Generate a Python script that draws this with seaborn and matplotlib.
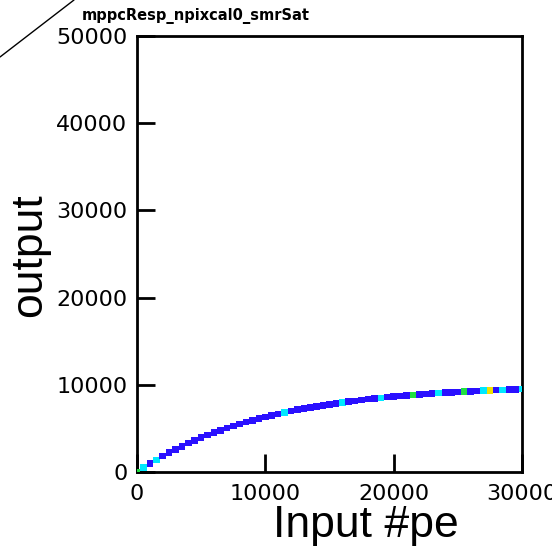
import matplotlib
matplotlib.use("Agg")
import matplotlib.pyplot as plt
from matplotlib.lines import Line2D
import seaborn as sns
import pandas as pd

# ---- data ----
input_pe = [0, 500, 1000, 1500, 2000, 2500, 3000, 3500, 4000, 4500,
            5000, 5500, 6000, 6500, 7000, 7500, 8000, 8500, 9000, 9500,
            10000, 10500, 11000, 11500, 12000, 12500, 13000, 13500, 14000, 14500,
            15000, 15500, 16000, 16500, 17000, 17500, 18000, 18500, 19000, 19500,
            20000, 20500, 21000, 21500, 22000, 22500, 23000, 23500, 24000, 24500,
            25000, 25500, 26000, 26500, 27000, 27500, 28000, 28500, 29000, 29500,
            30000]
output = [0, 490, 950, 1390, 1810, 2210, 2590, 2950, 3300, 3620,
          3940, 4230, 4510, 4780, 5030, 5280, 5510, 5730, 5930, 6130,
          6320, 6500, 6670, 6830, 6990, 7140, 7280, 7410, 7530, 7650,
          7770, 7880, 7980, 8080, 8170, 8260, 8350, 8430, 8500, 8580,
          8650, 8710, 8780, 8840, 8890, 8950, 9000, 9050, 9090, 9140,
          9180, 9220, 9260, 9290, 9330, 9360, 9390, 9420, 9450, 9480,
          9500]
counts = [3, 2, 1, 2, 1, 1, 1, 1, 1, 1,
          1, 1, 1, 1, 1, 1, 1, 1, 1, 1,
          1, 1, 1, 2, 1, 1, 1, 1, 1, 1,
          1, 1, 2, 1, 1, 1, 1, 1, 2, 1,
          1, 1, 1, 3, 1, 1, 1, 2, 1, 1,
          1, 3, 1, 1, 2, 4, 1, 2, 1, 1,
          2]
x_ticks = [0, 10000, 20000, 30000]
y_ticks = [0, 10000, 20000, 30000, 40000, 50000]
title = "mppcResp_npixcal0_smrSat"
x_title = "Input #pe"
y_title = "output"

df = pd.DataFrame({"input": input_pe, "output": output, "count": counts})
palette = {1: "#2a10ff", 2: "#00e8ff", 3: "#20e040", 4: "#f0e000"}

sns.set_style("ticks")
plt.rcParams["font.family"] = ["DejaVu Sans"]
plt.rcParams["text.color"] = "black"
plt.rcParams["axes.labelcolor"] = "black"

fig = plt.figure(figsize=(5.52, 5.57), dpi=100)
ax = fig.add_axes([137/552, 1-472/557, 385/552, 436/557])

sns.scatterplot(data=df, x="input", y="output", hue="count", palette=palette,
                marker="s", s=22, linewidth=0, legend=False, ax=ax, zorder=3)

ax.set_xlim(0, 30000)
ax.set_ylim(0, 50000)
ax.set_xticks(x_ticks)
ax.set_yticks(y_ticks)
ax.set_xticklabels([str(v) for v in x_ticks])
ax.set_yticklabels([str(v) for v in y_ticks])
ax.tick_params(direction="in", length=13, width=2, labelsize=16, colors="black",
               labelcolor="black", top=False, right=False)
ax.tick_params(axis="x", pad=9)
ax.tick_params(axis="y", pad=7)
for sp in ax.spines.values():
    sp.set_visible(True)
    sp.set_linewidth(2)
    sp.set_color("black")

ax.set_xlabel(x_title, fontsize=32, family="Liberation Sans", ha="center", va="top",
              color="black")
ax.xaxis.set_label_coords((366 - 137) / 385, (472 - 505) / 436)
ax.set_ylabel(y_title, fontsize=32, family="Liberation Sans", va="center",
              color="black")
ax.yaxis.set_label_coords((30 - 137) / 385, (472 - 255) / 436)

fig.text(82/552, 1 - 16/557, title, fontsize=10.5, fontweight="bold",
         ha="left", va="center", color="black")
fig.add_artist(Line2D([0, 74/552], [1 - 57/557, 1], transform=fig.transFigure,
                      color="black", lw=1))

fig.savefig("out.png", dpi=100)
